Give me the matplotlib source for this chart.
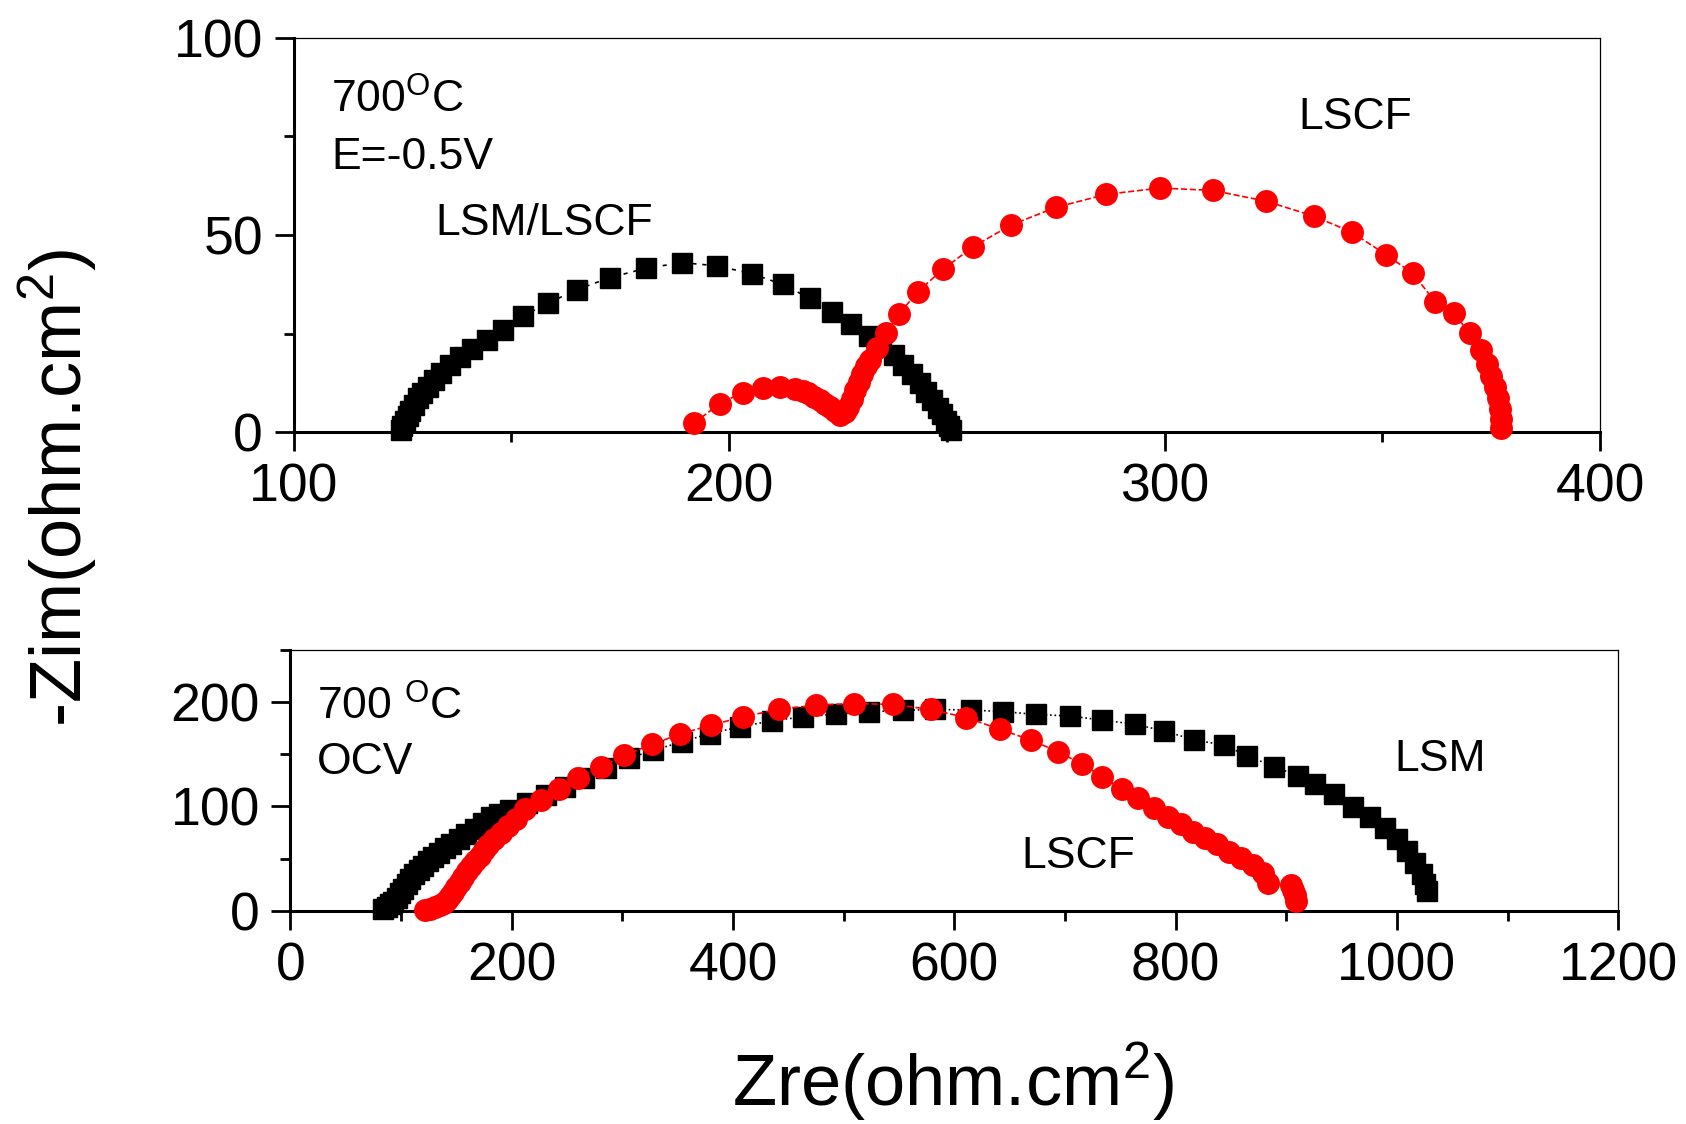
import matplotlib
matplotlib.use("Agg")
import matplotlib.pyplot as plt
from matplotlib.ticker import MultipleLocator

plt.rcParams['font.family'] = ['Liberation Sans', 'DejaVu Sans']
plt.rcParams['mathtext.fontset'] = 'custom'
plt.rcParams['mathtext.rm'] = 'Liberation Sans'
plt.rcParams['mathtext.it'] = 'Liberation Sans'
plt.rcParams['mathtext.bf'] = 'Liberation Sans'

# ---------------- data: top panel (E = -0.5 V) ----------------
top_lsm_lscf_zre = [124.6, 125.0, 125.5, 126.2, 126.8, 127.6, 128.6, 129.6, 130.8, 132.2,
                    133.9, 136.0, 138.3, 140.9, 144.4, 148.0, 152.8, 158.5, 165.2, 172.6,
                    181.0, 189.2, 197.3, 205.2, 212.3, 218.5, 223.7, 228.1, 232.1, 235.0,
                    237.8, 240.0, 242.0, 243.8, 245.3, 246.7, 247.9, 248.9, 249.8, 250.5, 251.0]
top_lsm_lscf_zim = [0.5, 1.5, 2.8, 4.2, 5.5, 7.0, 8.6, 10.0, 11.6, 13.2,
                    15.0, 17.0, 19.0, 21.2, 23.5, 26.0, 29.5, 32.8, 36.2, 39.2,
                    41.6, 43.0, 42.2, 40.2, 37.5, 34.0, 30.5, 27.5, 24.5, 22.0,
                    19.5, 17.0, 14.8, 12.5, 10.3, 8.3, 6.3, 4.6, 3.0, 1.6, 0.5]

top_lscf_zre = [192.0, 197.9, 203.1, 207.9, 211.7, 215.2, 217.0, 218.2, 219.6, 220.9,
                222.1, 223.2, 224.4, 225.5, 226.6, 227.4, 228.2, 229.0, 229.8, 230.5,
                231.5, 232.4, 234.0, 236.0, 239.1, 243.3, 249.1, 256.0, 264.7, 275.0,
                286.6, 299.0, 311.1, 323.2, 334.3, 343.0, 350.9, 357.0, 362.2, 366.4,
                370.1, 372.6, 374.0, 375.0, 375.8, 376.5, 377.0, 377.3, 377.3]
top_lscf_zim = [2.4, 7.3, 10.1, 11.2, 11.5, 11.1, 10.5, 9.9, 9.0, 8.2,
                7.3, 6.5, 5.4, 4.4, 5.2, 6.5, 8.5, 10.7, 12.8, 14.9,
                16.8, 18.3, 21.3, 25.1, 30.1, 35.6, 41.3, 47.0, 52.5, 57.0,
                60.3, 61.9, 61.3, 58.6, 54.8, 50.7, 45.0, 40.3, 33.0, 30.2,
                25.1, 21.0, 17.4, 14.2, 11.4, 8.7, 6.0, 3.3, 1.1]

# ---------------- data: bottom panel (OCV) ----------------
bot_lsm_zre = [84, 87, 90, 93, 96, 99, 102, 105, 108.5, 112, 116, 120, 124.5, 129, 134,
               139.5, 145.5, 152, 159, 166.5, 174, 181, 189, 198.5, 214, 231, 248, 265,
               285, 306, 328, 354, 379, 406, 435, 463.5, 493, 522.5, 554, 583, 614.7,
               644.3, 673.6, 704.7, 733.4, 763.5, 789.8, 817, 843.5, 864.7, 888.8, 910.6,
               926.2, 943.4, 960.2, 975.9, 989.5, 1000, 1009, 1016.6, 1022.6, 1025.6, 1027.1]
bot_lsm_zim = [1.5, 4, 6.5, 9, 12.5, 17, 21.5, 26, 30.5, 35, 39.5, 43.5, 47.5, 51.5, 55.5,
               60, 64.5, 69, 73.5, 78.5, 84, 89.5, 93, 96.4, 103, 110.8, 118.7, 127.7,
               137, 146, 153.8, 161.8, 169.8, 176, 182, 185.7, 188.3, 190.5, 192, 192.8, 192.3,
               190.7, 188.1, 186.5, 182.7, 178.6, 172.2, 163.6, 158.8, 148.6, 138.1, 129.5,
               121.2, 111.6, 99.5, 89.9, 79.7, 68.6, 57.4, 46.2, 35.1, 25.5, 19.1]

bot_lscf_zre = [122, 126, 131, 135, 139, 142, 144.5, 147, 150, 153, 156, 159.5, 163, 167,
                171, 175, 179, 184, 190, 197, 204, 212, 226.5, 242.8, 259.7, 280.7, 301.8,
                326.5, 352.1, 379.9, 409.3, 441.6, 475.3, 509, 544.3, 578.6, 611, 641.3,
                669.1, 693.8, 715.8, 733.9, 751.2, 766.3, 780.2, 792.8, 804.9, 815.5, 826.6,
                837.5, 848.7, 859.2, 869.8, 878.9, 883.4, 904.5, 906, 907.5, 908.5]
bot_lscf_zim = [0.5, 2, 4, 6, 8, 11, 14.5, 18.5, 23, 28, 33, 38, 43, 48,
                53, 58, 63.5, 69, 74.5, 81, 88, 98, 106, 116.5, 127.7, 137.9, 149,
                159.3, 169.2, 177.8, 185.7, 193.1, 196.9, 198.5, 197.6, 192.8, 185, 173.8,
                163.6, 152.4, 140.3, 128.5, 116.7, 107.8, 98.9, 90.2, 82.9, 75.9, 69.5,
                63.8, 56.8, 50.4, 44, 36, 26.5, 24.9, 20, 15, 10]

fig = plt.figure(figsize=(16.86, 11.24), dpi=100)
ax1 = fig.add_axes([0.1741, 0.6153, 0.7749, 0.3512])
ax2 = fig.add_axes([0.1722, 0.1895, 0.7876, 0.2325])

tick_fs = 38.5
text_fs = 32
label_fs = 52

def style(ax):
    for s in ['left', 'bottom']:
        ax.spines[s].set_linewidth(2.2)
    for s in ['top', 'right']:
        ax.spines[s].set_linewidth(0.9)
    ax.tick_params(which='major', direction='out', length=14, width=2.0,
                   labelsize=tick_fs, pad=8, top=False, right=False)
    ax.tick_params(which='minor', direction='out', length=7, width=2.0,
                   top=False, right=False)

# top panel
ax1.plot(top_lsm_lscf_zre, top_lsm_lscf_zim, color='black', ls=(0, (2.5, 3.5)), lw=1.2,
         marker='s', ms=14, mfc='black', mec='black', clip_on=False, zorder=3)
ax1.plot(top_lscf_zre, top_lscf_zim, color='red', ls='--', lw=1.2,
         marker='o', ms=15.5, mfc='red', mec='red', clip_on=False, zorder=4)
ax1.set_xlim(100, 400)
ax1.set_ylim(0, 100)
ax1.xaxis.set_major_locator(MultipleLocator(100))
ax1.xaxis.set_minor_locator(MultipleLocator(50))
ax1.yaxis.set_major_locator(MultipleLocator(50))
ax1.yaxis.set_minor_locator(MultipleLocator(25))
style(ax1)

ax1.text(0.0288, 0.809, r'700$^{\mathrm{O}}$C', transform=ax1.transAxes,
         fontsize=text_fs, va='baseline', ha='left')
ax1.text(0.0288, 0.668, 'E=-0.5V', transform=ax1.transAxes,
         fontsize=text_fs, va='baseline', ha='left')
ax1.text(0.1086, 0.501, 'LSM/LSCF', transform=ax1.transAxes,
         fontsize=text_fs, va='baseline', ha='left')
ax1.text(0.7695, 0.768, 'LSCF', transform=ax1.transAxes,
         fontsize=text_fs, va='baseline', ha='left')

# bottom panel
ax2.plot(bot_lsm_zre, bot_lsm_zim, color='black', ls=':', lw=1.2,
         marker='s', ms=14, mfc='black', mec='black', clip_on=False, zorder=3)
ax2.plot(bot_lscf_zre, bot_lscf_zim, color='red', ls='--', lw=1.2,
         marker='o', ms=15.5, mfc='red', mec='red', clip_on=False, zorder=4)
ax2.set_xlim(0, 1200)
ax2.set_ylim(0, 250)
ax2.xaxis.set_major_locator(MultipleLocator(200))
ax2.xaxis.set_minor_locator(MultipleLocator(100))
ax2.yaxis.set_major_locator(MultipleLocator(100))
ax2.yaxis.set_minor_locator(MultipleLocator(50))
style(ax2)

ax2.text(0.0202, 0.7325, r'700 $^{\mathrm{O}}$C', transform=ax2.transAxes,
         fontsize=text_fs, va='baseline', ha='left')
ax2.text(0.0202, 0.5226, 'OCV', transform=ax2.transAxes,
         fontsize=text_fs, va='baseline', ha='left')
ax2.text(0.8316, 0.535, 'LSM', transform=ax2.transAxes,
         fontsize=text_fs, va='baseline', ha='left')
ax2.text(0.5506, 0.1646, 'LSCF', transform=ax2.transAxes,
         fontsize=text_fs, va='baseline', ha='left')

fig.text(0.565, 0.017, r'Zre(ohm.cm$^2$)', fontsize=label_fs, ha='center', va='baseline')
fig.text(0.034, 0.566, r'-Zim(ohm.cm$^2$)', fontsize=label_fs, ha='center', va='center',
         rotation=90)

fig.savefig('out.png', dpi=100)
